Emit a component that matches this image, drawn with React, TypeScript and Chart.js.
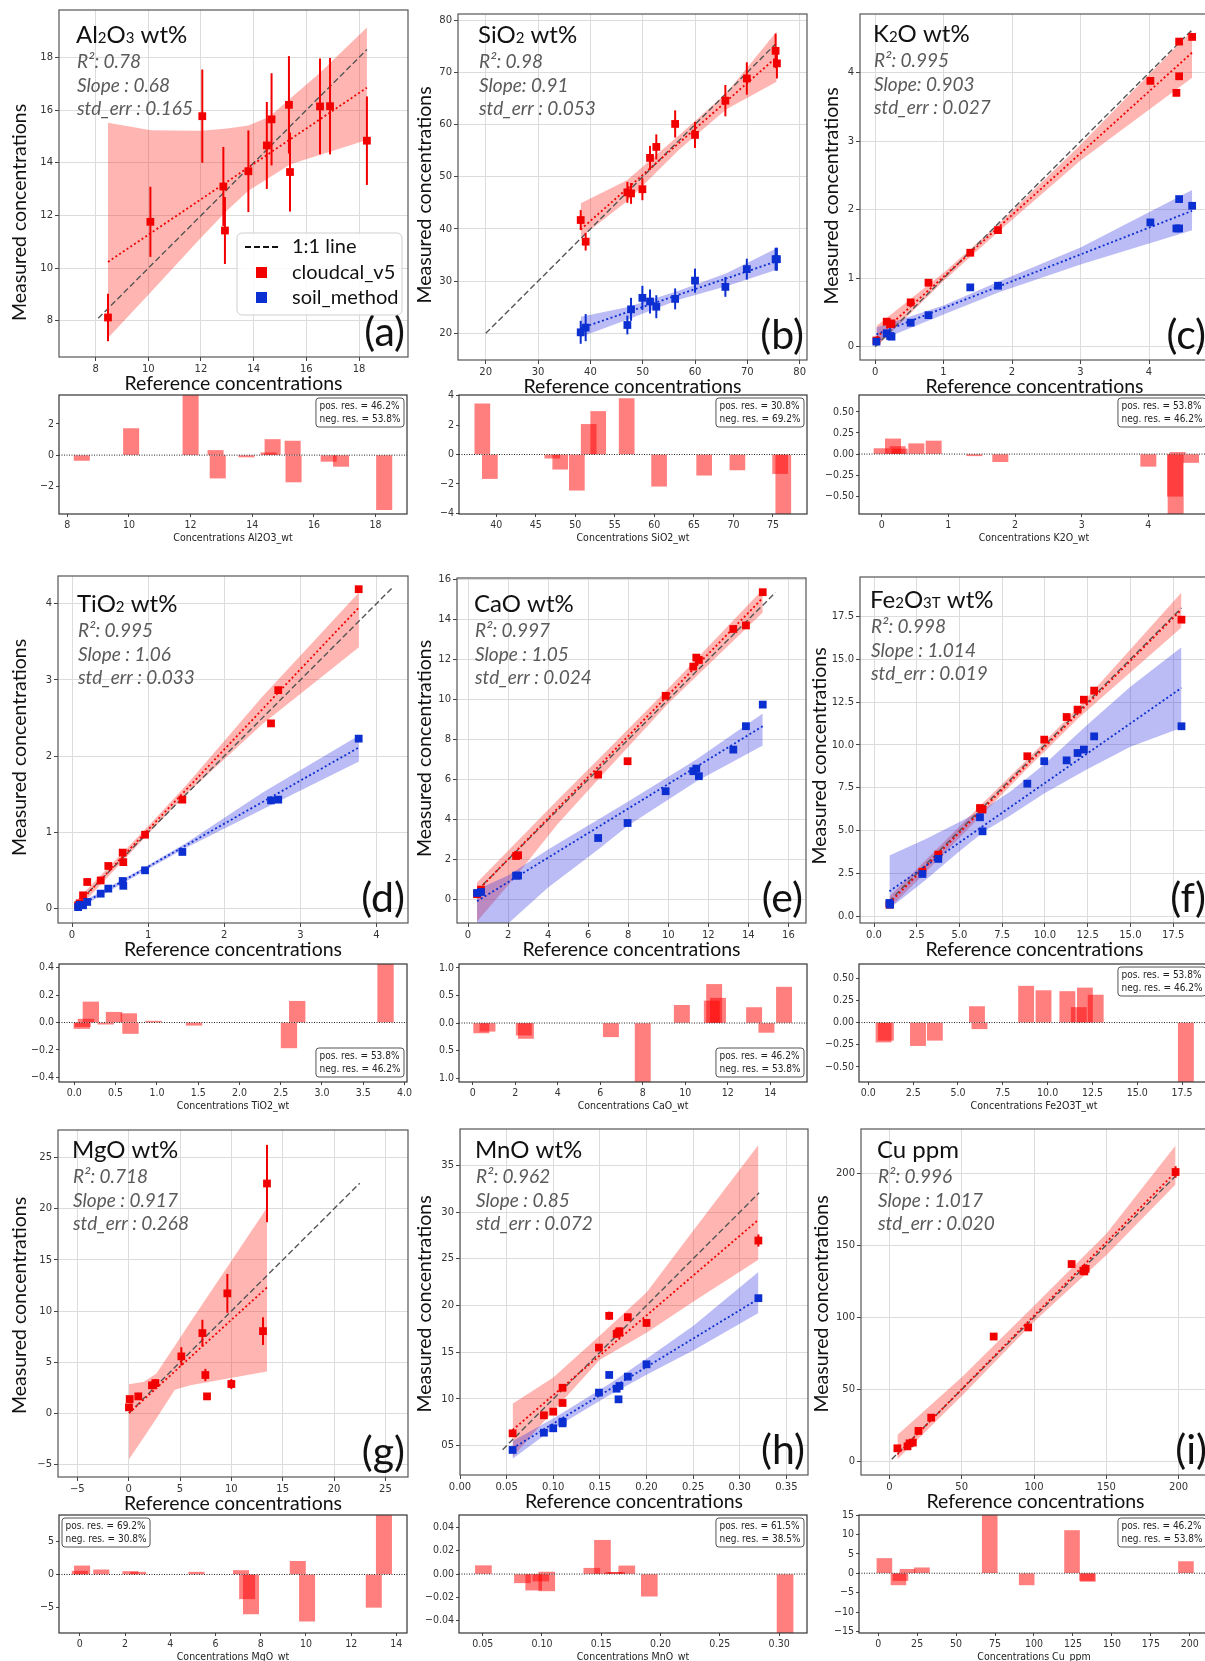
import React, { useEffect, useRef } from 'react';
import { Chart, registerables } from 'chart.js';

Chart.register(...registerables);

// ---------------- (a) Al2O3 ----------------
const AL_TICKS = [8, 10, 12, 14, 16, 18];
const AL_REF = [8.47, 10.08, 12.05, 12.85, 12.91, 13.8, 14.5, 14.68, 15.34, 15.38, 16.52, 16.9, 18.3];
const AL_CLOUD = [8.13, 11.76, 15.77, 13.1, 11.43, 13.68, 14.66, 15.65, 16.2, 13.65, 16.14, 16.15, 14.84];
const AL_CLOUD_ERR = [0.9, 1.33, 1.77, 1.5, 1.27, 1.55, 1.65, 1.75, 1.85, 1.5, 1.82, 1.83, 1.68];
const AL_FIT_X = [8.47, 18.3];
const AL_FIT_Y = [10.24, 16.85];
const AL_BAND_X = [8.47, 10.1, 12.0, 13.0, 13.8, 14.6, 15.4, 16.5, 18.3];
const AL_BAND_LO = [7.35, 9.1, 11.16, 12.2, 12.94, 13.44, 13.95, 14.3, 14.87];
const AL_BAND_HI = [15.52, 15.24, 15.22, 15.3, 15.42, 15.75, 16.45, 17.4, 19.14];
const AL_ONE = [8.1, 18.3];
const AL_RES_X = [8.47, 10.07, 12.0, 12.81, 12.88, 13.81, 14.53, 14.66, 15.31, 15.34, 16.48, 16.88, 18.28];
const AL_RES_Y = [-0.34, 1.7, 4.0, 0.3, -1.47, -0.12, 0.15, 1.0, 0.9, -1.72, -0.4, -0.72, -3.49];
const AL_RES_YTICKS = [-2, 0, 2];

// ---------------- (b) SiO2 ----------------
const SI_TICKS = [20, 30, 40, 50, 60, 70, 80];
const SI_REF = [38.15, 39.1, 47.07, 47.77, 49.94, 51.4, 52.6, 56.2, 60.0, 65.8, 69.9, 75.4, 75.65];
const SI_CLOUD = [41.7, 37.56, 47.0, 46.8, 47.6, 53.6, 55.7, 60.1, 58.0, 64.56, 68.8, 74.1, 71.7];
const SI_CLOUD_ERR = [1.9, 1.7, 2.0, 2.0, 2.1, 2.3, 2.4, 2.6, 2.5, 3.0, 3.1, 3.3, 2.9];
const SI_SOIL = [20.2, 21.1, 21.6, 24.6, 26.8, 26.1, 25.1, 26.6, 30.1, 28.9, 32.3, 34.2, 34.2];
const SI_SOIL_ERR = [2.2, 2.6, 1.8, 2.2, 2.3, 2.3, 2.2, 2.0, 2.3, 1.9, 2.0, 2.2, 2.2];
const SI_FIT_X = [38.15, 75.6];
const SI_CLOUD_FIT = [39.9, 72.9];
const SI_SOIL_FIT = [21.0, 33.8];
const SI_BAND_X = [38.15, 47, 57, 66, 75.6];
const SI_CLOUD_LO = [38.4, 45.3, 55.2, 62.9, 68.2];
const SI_CLOUD_HI = [44.9, 49.3, 58.0, 66.0, 77.8];
const SI_SOIL_LO = [19.3, 22.6, 26.5, 29.0, 32.2];
const SI_SOIL_HI = [23.2, 25.0, 28.2, 31.5, 36.3];
const SI_ONE = [20, 75.5];
const SI_RES_XTICKS = [40, 45, 50, 55, 60, 65, 70, 75];
const SI_RES_YTICKS = [-4, -2, 0, 2, 4];
const SI_RES_X = [38.25, 39.2, 47.1, 48.1, 50.2, 51.7, 52.9, 56.5, 60.6, 66.3, 70.5, 75.9, 76.3];
const SI_RES_Y = [3.45, -1.64, -0.25, -1.0, -2.43, 2.05, 2.93, 3.8, -2.16, -1.41, -1.05, -1.3, -4.3];

// ---------------- (c) K2O ----------------
const K_TICKS = [0, 1, 2, 3, 4];
const K_REF = [0.02, 0.17, 0.22, 0.24, 0.52, 0.78, 1.39, 1.795, 4.02, 4.4, 4.44, 4.44, 4.63];
const K_CLOUD = [0.09, 0.365, 0.33, 0.34, 0.647, 0.934, 1.372, 1.703, 3.883, 3.708, 3.95, 4.457, 4.525];
const K_SOIL = [0.073, 0.195, 0.156, 0.146, 0.35, 0.46, 0.866, 0.89, 1.815, 1.727, 1.727, 2.156, 2.058];
const K_FIT_X = [0.02, 4.63];
const K_CLOUD_FIT = [0.136, 4.297];
const K_SOIL_FIT = [0.18, 1.985];
const K_BAND_X = [0.02, 1.0, 1.8, 3.0, 4.63];
const K_CLOUD_LO = [0.0, 0.96, 1.68, 2.72, 3.93];
const K_CLOUD_HI = [0.3, 1.08, 1.79, 2.95, 4.62];
const K_SOIL_LO = [0.07, 0.47, 0.79, 1.2, 1.7];
const K_SOIL_HI = [0.28, 0.6, 0.95, 1.45, 2.29];
const K_ONE = [0, 4.62];
const K_RES_YTICKS = [-0.5, -0.25, 0, 0.25, 0.5];
const K_RES_X = [0.0, 0.17, 0.24, 0.27, 0.52, 0.78, 1.39, 1.78, 4.0, 4.4, 4.41, 4.44, 4.64];
const K_RES_Y = [0.065, 0.18, 0.09, 0.06, 0.123, 0.155, -0.02, -0.09, -0.145, -0.5, -0.72, 0.02, -0.1];

// ---------------- (d) TiO2 ----------------
const TI_TICKS = [0, 1, 2, 3, 4];
const TI_REF = [0.08, 0.1, 0.145, 0.2, 0.377, 0.477, 0.666, 0.674, 0.96, 1.45, 2.615, 2.71, 3.767];
const TI_CLOUD = [0.044, 0.07, 0.175, 0.35, 0.37, 0.56, 0.735, 0.61, 0.97, 1.43, 2.43, 2.866, 4.19];
const TI_SOIL = [0.02, 0.05, 0.044, 0.088, 0.197, 0.263, 0.363, 0.3, 0.503, 0.744, 1.42, 1.43, 2.23];
const TI_FIT_X = [0.08, 3.77];
const TI_CLOUD_FIT = [0.066, 3.95];
const TI_SOIL_FIT = [0.03, 2.114];
const TI_BAND_X = [0.08, 1.0, 1.5, 2.5, 3.77];
const TI_CLOUD_LO = [0.0, 0.98, 1.5, 2.42, 3.43];
const TI_CLOUD_HI = [0.13, 1.08, 1.62, 2.78, 4.145];
const TI_SOIL_LO = [0.0, 0.52, 0.8, 1.3, 1.93];
const TI_SOIL_HI = [0.06, 0.57, 0.86, 1.52, 2.27];
const TI_ONE = [0.05, 4.2];
const TI_RES_XTICKS = [0, 0.5, 1, 1.5, 2, 2.5, 3, 3.5, 4];
const TI_RES_YTICKS = [-0.4, -0.2, 0, 0.2, 0.4];
const TI_RES_X = [0.09, 0.1, 0.14, 0.2, 0.38, 0.48, 0.66, 0.68, 0.96, 1.45, 2.6, 2.7, 3.77];
const TI_RES_Y = [-0.044, -0.03, 0.025, 0.15, -0.012, 0.075, 0.065, -0.08, 0.01, -0.02, -0.185, 0.155, 0.45];

// ---------------- (e) CaO ----------------
const CA_TICKS = [0, 2, 4, 6, 8, 10, 12, 14, 16];
const CA_REF = [0.45, 0.65, 2.4, 2.5, 6.5, 7.97, 9.87, 11.25, 11.4, 11.53, 13.25, 13.88, 14.72];
const CA_CLOUD = [0.27, 0.5, 2.18, 2.22, 6.25, 6.92, 10.19, 11.65, 12.1, 11.98, 13.53, 13.71, 15.37];
const CA_SOIL = [0.33, 0.38, 1.2, 1.2, 3.08, 3.83, 5.42, 6.42, 6.55, 6.17, 7.5, 8.67, 9.75];
const CA_FIT_X = [0.45, 14.72];
const CA_CLOUD_FIT = [0.42, 15.08];
const CA_SOIL_FIT = [-0.08, 8.67];
const CA_CLOUD_BAND_X = [0.45, 2.5, 4.5, 6.5, 10, 14.72];
const CA_CLOUD_LO = [-1.1, 1.3, 3.8, 6.0, 9.8, 14.35];
const CA_CLOUD_HI = [0.85, 2.95, 5.0, 7.0, 10.55, 15.5];
const CA_SOIL_BAND_X = [0.45, 2.0, 4.0, 6.5, 8.0, 11.4, 14.72];
const CA_SOIL_LO = [-1.2, -1.2, 0.6, 2.5, 3.7, 5.9, 7.7];
const CA_SOIL_HI = [0.5, 1.2, 2.5, 4.0, 4.9, 7.0, 9.3];
const CA_ONE = [0.4, 15.35];
const CA_RES_XTICKS = [0, 2, 4, 6, 8, 10, 12, 14];
const CA_RES_YTICKS = [-1, -0.5, 0, 0.5, 1];
const CA_RES_X = [0.4, 0.69, 2.4, 2.5, 6.5, 8.0, 9.84, 11.25, 11.36, 11.54, 13.24, 13.82, 14.65];
const CA_RES_Y = [-0.18, -0.15, -0.22, -0.28, -0.25, -1.1, 0.32, 0.4, 0.7, 0.45, 0.28, -0.17, 0.65];

// ---------------- (f) Fe2O3T ----------------
const FE_TICKS = [0, 2.5, 5, 7.5, 10, 12.5, 15, 17.5];
const FE_REF = [0.9, 0.94, 2.83, 3.76, 6.2, 6.35, 8.97, 9.96, 11.27, 11.91, 12.28, 12.88, 17.99];
const FE_CLOUD = [0.68, 0.72, 2.59, 3.6, 6.32, 6.23, 9.34, 10.31, 11.63, 12.06, 12.64, 13.17, 17.31];
const FE_SOIL = [0.78, 0.68, 2.47, 3.35, 5.78, 4.96, 7.74, 9.05, 9.1, 9.53, 9.73, 10.5, 11.09];
const FE_FIT_X = [0.9, 17.99];
const FE_CLOUD_FIT = [0.78, 17.9];
const FE_SOIL_FIT = [1.46, 13.33];
const FE_CLOUD_BAND_X = [0.9, 3, 6, 9, 12, 17.99];
const FE_CLOUD_LO = [0.45, 2.55, 5.6, 8.65, 11.6, 16.85];
const FE_CLOUD_HI = [1.15, 3.25, 6.25, 9.2, 12.25, 18.9];
const FE_SOIL_BAND_X = [0.9, 3, 5, 6.5, 8, 10, 12.5, 15, 17.99];
const FE_SOIL_LO = [0.45, 2.1, 3.8, 5.0, 5.9, 7.2, 8.6, 9.9, 11.0];
const FE_SOIL_HI = [3.55, 4.5, 5.5, 6.3, 7.3, 8.9, 11.2, 13.4, 15.7];
const FE_ONE = [0.85, 17.99];
const FE_RES_YTICKS = [-0.5, -0.25, 0, 0.25, 0.5];
const FE_RES_X = [0.85, 0.98, 2.77, 3.71, 6.06, 6.2, 8.8, 9.77, 11.1, 11.74, 12.08, 12.68, 17.71];
const FE_RES_Y = [-0.22, -0.2, -0.26, -0.2, 0.18, -0.07, 0.41, 0.36, 0.35, 0.17, 0.39, 0.31, -0.7];

// ---------------- (g) MgO ----------------
const MG_TICKS = [-5, 0, 5, 10, 15, 20, 25];
const MG_REF = [0.03, 0.1, 0.94, 2.27, 2.6, 5.13, 7.18, 7.47, 7.63, 9.61, 10.0, 13.08, 13.47];
const MG_CLOUD = [0.59, 1.4, 1.66, 2.74, 2.96, 5.57, 7.85, 3.75, 1.66, 11.73, 2.87, 8.04, 22.47];
const MG_CLOUD_ERR = [0.3, 0.3, 0.35, 0.4, 0.4, 0.9, 1.3, 0.6, 0.3, 1.9, 0.5, 1.35, 3.78];
const MG_FIT_X = [0.03, 13.47];
const MG_FIT_Y = [0.03, 12.31];
const MG_BAND_X = [0.03, 1.5, 2.7, 4.5, 6.0, 13.47];
const MG_BAND_LO = [-4.5, -2.3, -0.5, 2.3, 2.75, 4.1];
const MG_BAND_HI = [2.85, 3.1, 3.9, 6.6, 8.9, 20.1];
const MG_ONE = [0.03, 22.5];
const MG_RES_XTICKS = [0, 2, 4, 6, 8, 10, 12, 14];
const MG_RES_YTICKS = [-5, 0, 5];
const MG_RES_X = [0.0, 0.1, 0.95, 2.24, 2.58, 5.16, 7.13, 7.4, 7.57, 9.64, 10.05, 13.0, 13.45];
const MG_RES_Y = [0.5, 1.3, 0.7, 0.45, 0.35, 0.35, 0.6, -3.7, -6.0, 2.0, -7.1, -5.0, 9.5];

// ---------------- (h) MnO ----------------
const MN_XTICKS = [0, 0.05, 0.1, 0.15, 0.2, 0.25, 0.3, 0.35];
const MN_YTICKS = [5, 10, 15, 20, 25, 30, 35];
const MN_REF = [0.0564, 0.09, 0.1, 0.11, 0.11, 0.149, 0.16, 0.168, 0.17, 0.171, 0.18, 0.2, 0.32];
const MN_CLOUD = [6.32, 8.25, 8.64, 11.2, 9.57, 15.5, 18.9, 16.96, 17.1, 17.25, 18.75, 18.14, 26.96];
const MN_CLOUD_ERR = [0.3, 0.3, 0.3, 0.35, 0.3, 0.35, 0.45, 0.4, 0.4, 0.4, 0.4, 0.4, 0.65];
const MN_SOIL = [4.54, 6.39, 6.86, 7.57, 7.39, 10.68, 12.57, 11.1, 9.96, 11.39, 12.39, 13.71, 20.79];
const MN_FIT_X = [0.0564, 0.32];
const MN_CLOUD_FIT = [6.68, 29.18];
const MN_SOIL_FIT = [4.71, 20.71];
const MN_CLOUD_BAND_X = [0.0564, 0.1, 0.15, 0.2, 0.25, 0.32];
const MN_CLOUD_LO = [3.8, 8.7, 14.2, 17.1, 20.4, 24.9];
const MN_CLOUD_HI = [9.5, 12.3, 16.8, 21.4, 28.0, 37.2];
const MN_SOIL_BAND_X = [0.0564, 0.1, 0.16, 0.2, 0.25, 0.32];
const MN_SOIL_LO = [3.6, 6.8, 10.4, 12.6, 15.2, 19.2];
const MN_SOIL_HI = [5.5, 7.9, 11.6, 14.3, 17.8, 23.6];
const MN_ONE_X = [0.0457, 0.3207];
const MN_ONE_Y = [4.57, 32.07];
const MN_RES_XTICKS = [0.05, 0.1, 0.15, 0.2, 0.25, 0.3];
const MN_RES_YTICKS = [-0.04, -0.02, 0, 0.02, 0.04];
const MN_RES_X = [0.0506, 0.0835, 0.093, 0.099, 0.104, 0.104, 0.142, 0.151, 0.16, 0.163, 0.1715, 0.1905, 0.305];
const MN_RES_Y = [0.0072, -0.0075, -0.0138, -0.006, 0.0017, -0.0144, 0.005, 0.029, 0.0015, 0.0015, 0.007, -0.019, -0.055];

// ---------------- (i) Cu ----------------
const CU_TICKS = [0, 50, 100, 150, 200];
const CU_REF = [5.5, 12.5, 13.9, 16.2, 20.1, 28.9, 72.1, 96.0, 126.0, 134.1, 134.8, 135.7, 197.9];
const CU_CLOUD = [9.25, 10.6, 12.7, 13.2, 21.3, 30.5, 86.7, 93.0, 136.9, 132.3, 131.8, 133.6, 200.7];
const CU_CLOUD_ERR = [1, 1, 1, 1, 1, 1, 1.5, 1.5, 2.5, 2.5, 2.5, 2.5, 4];
const CU_FIT_X = [5.5, 197.9];
const CU_FIT_Y = [5.0, 200.7];
const CU_BAND_X = [5.5, 50, 100, 150, 197.9];
const CU_BAND_LO = [1.6, 45.5, 97, 143, 192];
const CU_BAND_HI = [18.5, 58.5, 108, 158, 219];
const CU_ONE = [1.6, 198];
const CU_RES_XTICKS = [0, 25, 50, 75, 100, 125, 150, 175, 200];
const CU_RES_YTICKS = [-15, -10, -5, 0, 5, 10, 15];
const CU_RES_X = [4.0, 13.0, 14.3, 18.8, 28.1, 71.6, 95.3, 124.4, 134.0, 134.6, 197.5];
const CU_RES_Y = [3.8, -3.0, -1.9, 1.0, 1.4, 16, -3.0, 11.0, -1.9, -2.1, 3.0];

// ---------------- styles ----------------
const SANS = "Lato, 'Open Sans', 'Noto Sans', sans-serif";
const TICK_FONT = "'DejaVu Sans', sans-serif";
const COND_FONT = "'DejaVu Sans Condensed', 'Liberation Sans Narrow', 'DejaVu Sans', sans-serif";
const RED = '#f20000';
const BLUE = '#0b2fd0';
const RED_BAND = 'rgba(255,40,30,0.34)';
const BLUE_BAND = 'rgba(50,50,225,0.33)';
const RES_BAR = 'rgba(255,0,0,0.5)';

const ML = 62, MT = 10, MR = 10, MB = 42;
const RL = 40, RT = 6, RR = 10, RB = 34;

const band = (x, lo, hi) => ({ x, lo, hi });

const MAIN = [
  { rect: [59, 10, 408, 357], xr: [6.61, 19.86], yr: [6.63, 19.8], xt: AL_TICKS, yt: AL_TICKS, xd: 0, yd: 0,
    ref: AL_REF, cloud: AL_CLOUD, cloudErr: AL_CLOUD_ERR, fitX: AL_FIT_X, cloudFit: AL_FIT_Y,
    cloudBand: band(AL_BAND_X, AL_BAND_LO, AL_BAND_HI), oneX: AL_ONE, oneY: AL_ONE,
    title: [['Al', 0], ['2', 1], ['O', 0], ['3', 1], [' wt%', 0]], stats: ['R²: 0.78', 'Slope : 0.68', 'std_err : 0.165'],
    letter: '(a)', tOff: [17, 33], yto: [39, 29], legend: true },
  { rect: [458, 14, 807, 360], xr: [14.7, 81.4], yr: [14.9, 81.15], xt: SI_TICKS, yt: SI_TICKS, xd: 0, yd: 0,
    ref: SI_REF, cloud: SI_CLOUD, cloudErr: SI_CLOUD_ERR, soil: SI_SOIL, soilErr: SI_SOIL_ERR, fitX: SI_FIT_X,
    cloudFit: SI_CLOUD_FIT, soilFit: SI_SOIL_FIT, cloudBand: band(SI_BAND_X, SI_CLOUD_LO, SI_CLOUD_HI),
    soilBand: band(SI_BAND_X, SI_SOIL_LO, SI_SOIL_HI), oneX: SI_ONE, oneY: SI_ONE,
    title: [['SiO', 0], ['2', 1], [' wt%', 0]], stats: ['R²: 0.98', 'Slope: 0.91', 'std_err : 0.053'],
    letter: '(b)', tOff: [20, 29], yto: [33, 8] },
  { rect: [860, 14, 1209, 360], xr: [-0.22, 4.876], yr: [-0.195, 4.86], xt: K_TICKS, yt: K_TICKS, xd: 0, yd: 0,
    ref: K_REF, cloud: K_CLOUD, soil: K_SOIL, fitX: K_FIT_X, cloudFit: K_CLOUD_FIT, soilFit: K_SOIL_FIT,
    cloudBand: band(K_BAND_X, K_CLOUD_LO, K_CLOUD_HI), soilBand: band(K_BAND_X, K_SOIL_LO, K_SOIL_HI),
    oneX: K_ONE, oneY: K_ONE,
    title: [['K', 0], ['2', 1], ['O wt%', 0]], stats: ['R²: 0.995', 'Slope: 0.903', 'std_err : 0.027'],
    letter: '(c)', tOff: [13, 28], yto: [28, 9] },
  { rect: [58, 576, 408, 923], xr: [-0.184, 4.415], yr: [-0.188, 4.363], xt: TI_TICKS, yt: TI_TICKS, xd: 0, yd: 0,
    ref: TI_REF, cloud: TI_CLOUD, soil: TI_SOIL, fitX: TI_FIT_X, cloudFit: TI_CLOUD_FIT, soilFit: TI_SOIL_FIT,
    cloudBand: band(TI_BAND_X, TI_CLOUD_LO, TI_CLOUD_HI), soilBand: band(TI_BAND_X, TI_SOIL_LO, TI_SOIL_HI),
    oneX: TI_ONE, oneY: TI_ONE,
    title: [['TiO', 0], ['2', 1], [' wt%', 0]], stats: ['R²: 0.995', 'Slope : 1.06', 'std_err : 0.033'],
    letter: '(d)', tOff: [19, 36], yto: [38, -2] },
  { rect: [457, 578, 806, 923], xr: [-0.55, 16.88], yr: [-1.17, 16.08], xt: CA_TICKS, yt: CA_TICKS, xd: 0, yd: 0,
    ref: CA_REF, cloud: CA_CLOUD, soil: CA_SOIL, fitX: CA_FIT_X, cloudFit: CA_CLOUD_FIT, soilFit: CA_SOIL_FIT,
    cloudBand: band(CA_CLOUD_BAND_X, CA_CLOUD_LO, CA_CLOUD_HI), soilBand: band(CA_SOIL_BAND_X, CA_SOIL_LO, CA_SOIL_HI),
    oneX: CA_ONE, oneY: CA_ONE,
    title: [['CaO wt%', 0]], stats: ['R²: 0.997', 'Slope : 1.05', 'std_err : 0.024'],
    letter: '(e)', tOff: [17, 34], yto: [32, -2] },
  { rect: [860, 577, 1209, 923], xr: [-0.82, 19.6], yr: [-0.39, 19.8], xt: FE_TICKS, yt: FE_TICKS, xd: 1, yd: 1,
    ref: FE_REF, cloud: FE_CLOUD, soil: FE_SOIL, fitX: FE_FIT_X, cloudFit: FE_CLOUD_FIT, soilFit: FE_SOIL_FIT,
    cloudBand: band(FE_CLOUD_BAND_X, FE_CLOUD_LO, FE_CLOUD_HI), soilBand: band(FE_SOIL_BAND_X, FE_SOIL_LO, FE_SOIL_HI),
    oneX: FE_ONE, oneY: FE_ONE,
    title: [['Fe', 0], ['2', 1], ['O', 0], ['3T', 1], [' wt%', 0]], stats: ['R²: 0.998', 'Slope : 1.014', 'std_err : 0.019'],
    letter: '(f)', tOff: [10, 31], yto: [40, 6] },
  { rect: [58, 1130, 408, 1477], xr: [-6.88, 27.2], yr: [-6.22, 27.7], xt: MG_TICKS, yt: MG_TICKS, xd: 0, yd: 0,
    ref: MG_REF, cloud: MG_CLOUD, cloudErr: MG_CLOUD_ERR, fitX: MG_FIT_X, cloudFit: MG_FIT_Y,
    cloudBand: band(MG_BAND_X, MG_BAND_LO, MG_BAND_HI), oneX: MG_ONE, oneY: MG_ONE,
    title: [['MgO wt%', 0]], stats: ['R²: 0.718', 'Slope : 0.917', 'std_err : 0.268'],
    letter: '(g)', tOff: [14, 28], yto: [38, 2] },
  { rect: [460, 1129, 808, 1475], xr: [0, 0.3732], yr: [1.86, 38.9], xt: MN_XTICKS, yt: MN_YTICKS, xd: 2, yd: 0, yPad: true,
    ref: MN_REF, cloud: MN_CLOUD, cloudErr: MN_CLOUD_ERR, soil: MN_SOIL, fitX: MN_FIT_X, cloudFit: MN_CLOUD_FIT, soilFit: MN_SOIL_FIT,
    cloudBand: band(MN_CLOUD_BAND_X, MN_CLOUD_LO, MN_CLOUD_HI), soilBand: band(MN_SOIL_BAND_X, MN_SOIL_LO, MN_SOIL_HI),
    oneX: MN_ONE_X, oneY: MN_ONE_Y,
    title: [['MnO wt%', 0]], stats: ['R²: 0.962', 'Slope : 0.85', 'std_err : 0.072'],
    letter: '(h)', tOff: [15, 29], yto: [35, 2] },
  { rect: [861, 1129, 1210, 1475], xr: [-19.65, 221.7], yr: [-9.25, 230.5], xt: CU_TICKS, yt: CU_TICKS, xd: 0, yd: 0,
    ref: CU_REF, cloud: CU_CLOUD, cloudErr: CU_CLOUD_ERR, fitX: CU_FIT_X, cloudFit: CU_FIT_Y,
    cloudBand: band(CU_BAND_X, CU_BAND_LO, CU_BAND_HI), oneX: CU_ONE, oneY: CU_ONE,
    title: [['Cu ppm', 0]], stats: ['R²: 0.996', 'Slope : 1.017', 'std_err : 0.020'],
    letter: '(i)', tOff: [16, 29], yto: [39, 2] },
];

const RES = [
  { rect: [59, 395, 407, 514], xr: [7.73, 19.02], yr: [-3.77, 3.85], xt: AL_TICKS, yt: AL_RES_YTICKS, xd: 0, yd: 0,
    x: AL_RES_X, y: AL_RES_Y, bw: 0.5, pos: '46.2', neg: '53.8', box: 'tr', label: 'Concentrations Al2O3_wt' },
  { rect: [459, 395, 807, 514], xr: [35.3, 79.3], yr: [-4.05, 4.05], xt: SI_RES_XTICKS, yt: SI_RES_YTICKS, xd: 0, yd: 0,
    x: SI_RES_X, y: SI_RES_Y, bw: 1.9, pos: '30.8', neg: '69.2', box: 'tr', label: 'Concentrations SiO2_wt' },
  { rect: [859, 395, 1209, 514], xr: [-0.34, 4.91], yr: [-0.71, 0.7], xt: K_TICKS, yt: K_RES_YTICKS, xd: 0, yd: 2,
    x: K_RES_X, y: K_RES_Y, bw: 0.23, pos: '53.8', neg: '46.2', box: 'tr', label: 'Concentrations K2O_wt' },
  { rect: [59, 964, 407, 1082], xr: [-0.186, 4.03], yr: [-0.434, 0.427], xt: TI_RES_XTICKS, yt: TI_RES_YTICKS, xd: 1, yd: 1,
    x: TI_RES_X, y: TI_RES_Y, bw: 0.19, pos: '53.8', neg: '46.2', box: 'br', label: 'Concentrations TiO2_wt' },
  { rect: [459, 964, 807, 1082], xr: [-0.65, 15.73], yr: [-1.07, 1.07], xt: CA_RES_XTICKS, yt: CA_RES_YTICKS, xd: 0, yd: 1, yAbs: true,
    x: CA_RES_X, y: CA_RES_Y, bw: 0.72, pos: '46.2', neg: '53.8', box: 'br', label: 'Concentrations CaO_wt' },
  { rect: [859, 964, 1209, 1082], xr: [-0.52, 19.0], yr: [-0.67, 0.66], xt: FE_TICKS, yt: FE_RES_YTICKS, xd: 1, yd: 2,
    x: FE_RES_X, y: FE_RES_Y, bw: 0.85, pos: '53.8', neg: '46.2', box: 'tr', label: 'Concentrations Fe2O3T_wt' },
  { rect: [59, 1515, 407, 1633], xr: [-0.92, 14.47], yr: [-8.9, 9.04], xt: MG_RES_XTICKS, yt: MG_RES_YTICKS, xd: 0, yd: 0,
    x: MG_RES_X, y: MG_RES_Y, bw: 0.68, pos: '69.2', neg: '30.8', box: 'tl', label: 'Concentrations MgO_wt' },
  { rect: [459, 1515, 807, 1633], xr: [0.03, 0.3235], yr: [-0.0506, 0.0507], xt: MN_RES_XTICKS, yt: MN_RES_YTICKS, xd: 2, yd: 2,
    x: MN_RES_X, y: MN_RES_Y, bw: 0.0135, pos: '61.5', neg: '38.5', box: 'tr', label: 'Concentrations MnO_wt' },
  { rect: [859, 1515, 1209, 1633], xr: [-12.3, 212.3], yr: [-15.4, 15.0], xt: CU_RES_XTICKS, yt: CU_RES_YTICKS, xd: 0, yd: 0,
    x: CU_RES_X, y: CU_RES_Y, bw: 9.6, pos: '46.2', neg: '53.8', box: 'tr', label: 'Concentrations Cu_ppm' },
];

function fmt(v, dec, pad, abs) {
  const val = abs ? Math.abs(v) : v;
  let s = Math.abs(val).toFixed(dec);
  if (pad && s.length < 2) s = '0' + s;
  return (val < -1e-12 ? '\u2212' : '') + s;
}

function axis(range, ticks, dec, isX, o) {
  return {
    type: 'linear', min: range[0], max: range[1], offset: false,
    afterBuildTicks: (s) => { s.ticks = ticks.map((v) => ({ value: v })); },
    afterFit: (s) => {
      if (isX) s.height = o.h; else s.width = o.w;
      s.paddingLeft = 0; s.paddingRight = 0; s.paddingTop = 0; s.paddingBottom = 0;
    },
    grid: { display: true, offset: false, drawOnChartArea: o.grid, color: '#dcdcdc', lineWidth: 1, drawTicks: true, tickLength: o.tl, tickColor: '#444' },
    border: { display: false },
    ticks: { autoSkip: false, maxRotation: 0, minRotation: 0, padding: o.pad, color: '#333',
      font: { family: o.font, size: o.size }, callback: (v) => fmt(v, dec, isX ? false : o.yPad, isX ? false : o.yAbs) },
  };
}

function pts(xs, ys) { return xs.map((x, i) => ({ x, y: ys[i] })); }

function drawSegs(ctx, segs, x, y) {
  let cx = x;
  segs.forEach(([t, small]) => {
    ctx.font = small ? `15px ${SANS}` : `24px ${SANS}`;
    ctx.fillText(t, cx, y);
    cx += ctx.measureText(t).width;
  });
}

function buildMain(p) {
  const ds = [];
  const addBand = (b, color) => {
    ds.push({ type: 'line', data: pts(b.x, b.hi), borderWidth: 0, borderColor: 'rgba(0,0,0,0)', pointRadius: 0, fill: '+1', backgroundColor: color, order: 30 });
    ds.push({ type: 'line', data: pts(b.x, b.lo), borderWidth: 0, borderColor: 'rgba(0,0,0,0)', pointRadius: 0, fill: false, order: 30 });
  };
  if (p.soilBand) addBand(p.soilBand, BLUE_BAND);
  addBand(p.cloudBand, RED_BAND);
  ds.push({ type: 'line', data: pts(p.oneX, p.oneY), borderColor: '#555', borderWidth: 1.4, borderDash: [6, 3], pointRadius: 0, fill: false, order: 20 });
  if (p.soilFit) ds.push({ type: 'line', data: pts(p.fitX, p.soilFit), borderColor: BLUE, borderWidth: 1.8, borderDash: [2, 2.5], pointRadius: 0, fill: false, order: 10 });
  ds.push({ type: 'line', data: pts(p.fitX, p.cloudFit), borderColor: RED, borderWidth: 1.8, borderDash: [2, 2.5], pointRadius: 0, fill: false, order: 10 });
  ds.push({ type: 'line', data: pts(p.ref, p.cloud), showLine: false, pointStyle: 'rect', pointRadius: 5.5, pointBackgroundColor: RED, backgroundColor: RED, borderColor: RED, pointBorderWidth: 0, order: 3, errs: p.cloudErr });
  if (p.soil) ds.push({ type: 'line', data: pts(p.ref, p.soil), showLine: false, pointStyle: 'rect', pointRadius: 5.5, pointBackgroundColor: BLUE, backgroundColor: BLUE, borderColor: BLUE, pointBorderWidth: 0, order: 2, errs: p.soilErr });

  const ao = { w: ML, h: MB, grid: true, tl: 4, pad: 2, font: TICK_FONT, size: 10, yPad: p.yPad };
  const deco = {
    id: 'mainDeco',
    beforeDatasetDraw(chart, args) {
      const d = chart.data.datasets[args.index];
      if (!d.errs) return;
      const { ctx, chartArea: a, scales } = chart;
      ctx.save();
      ctx.beginPath(); ctx.rect(a.left, a.top, a.width, a.height); ctx.clip();
      ctx.strokeStyle = d.pointBackgroundColor; ctx.lineWidth = 2;
      d.data.forEach((pt, i) => {
        const e = d.errs[i];
        const px = scales.x.getPixelForValue(pt.x);
        ctx.beginPath();
        ctx.moveTo(px, scales.y.getPixelForValue(pt.y - e));
        ctx.lineTo(px, scales.y.getPixelForValue(pt.y + e));
        ctx.stroke();
      });
      ctx.restore();
    },
    afterDraw(chart) {
      const { ctx, chartArea: a } = chart;
      ctx.save();
      ctx.strokeStyle = '#555'; ctx.lineWidth = 1.2;
      ctx.strokeRect(a.left, a.top, a.width, a.height);
      // title
      ctx.fillStyle = '#111'; ctx.textBaseline = 'alphabetic'; ctx.textAlign = 'left';
      drawSegs(ctx, p.title, a.left + p.tOff[0], a.top + p.tOff[1]);
      ctx.fillStyle = '#5a5a5a'; ctx.font = `italic 19px ${SANS}`;
      p.stats.forEach((s, i) => ctx.fillText(s, a.left + p.tOff[0] + 1, a.top + p.tOff[1] + 25 + i * 23.5));
      // letter
      ctx.fillStyle = '#111'; ctx.font = `41px ${SANS}`; ctx.textAlign = 'right';
      ctx.fillText(p.letter, a.right - 3, a.bottom - 11);
      // axis titles
      ctx.font = `19.5px ${SANS}`; ctx.textAlign = 'center'; ctx.textBaseline = 'middle';
      ctx.fillText('Reference concentrations', (a.left + a.right) / 2, a.bottom + 27);
      ctx.save();
      ctx.translate(a.left - p.yto[0], (a.top + a.bottom) / 2 + p.yto[1]);
      ctx.rotate(-Math.PI / 2);
      ctx.fillText('Measured concentrations', 0, 0);
      ctx.restore();
      if (p.legend) {
        const lx = a.left + 178, ly = a.top + 223;
        ctx.fillStyle = 'rgba(255,255,255,0.85)'; ctx.strokeStyle = '#cfcfcf'; ctx.lineWidth = 1;
        ctx.beginPath(); ctx.roundRect(lx, ly, 165, 82, 5); ctx.fill(); ctx.stroke();
        ctx.strokeStyle = '#111'; ctx.lineWidth = 2; ctx.setLineDash([6, 3]);
        ctx.beginPath(); ctx.moveTo(lx + 8, ly + 14); ctx.lineTo(lx + 41, ly + 14); ctx.stroke();
        ctx.setLineDash([]);
        ctx.fillStyle = RED; ctx.fillRect(lx + 19, ly + 34, 11, 11);
        ctx.fillStyle = BLUE; ctx.fillRect(lx + 19, ly + 59, 11, 11);
        ctx.fillStyle = '#111'; ctx.font = `20px ${SANS}`; ctx.textAlign = 'left'; ctx.textBaseline = 'middle';
        ctx.fillText('1:1 line', lx + 55, ly + 14);
        ctx.fillText('cloudcal_v5', lx + 55, ly + 40);
        ctx.fillText('soil_method', lx + 55, ly + 65);
      }
      ctx.restore();
    },
  };
  return {
    type: 'line',
    data: { datasets: ds },
    options: {
      animation: false, responsive: false, maintainAspectRatio: false, devicePixelRatio: 1,
      layout: { padding: { left: 0, top: MT, right: MR, bottom: 0 } },
      plugins: { legend: { display: false }, tooltip: { enabled: false } },
      scales: { x: axis(p.xr, p.xt, p.xd, true, ao), y: axis(p.yr, p.yt, p.yd, false, ao) },
    },
    plugins: [deco],
  };
}

function buildRes(r) {
  const w = r.rect[2] - r.rect[0];
  const barPx = (r.bw * w) / (r.xr[1] - r.xr[0]);
  const ao = { w: RL, h: RB, grid: false, tl: 3, pad: 2, font: COND_FONT, size: 10.5, yAbs: r.yAbs };
  const deco = {
    id: 'resDeco',
    afterDatasetsDraw(chart) {
      const { ctx, chartArea: a, scales } = chart;
      const y0 = scales.y.getPixelForValue(0);
      ctx.save();
      ctx.strokeStyle = '#222'; ctx.lineWidth = 1; ctx.setLineDash([1, 1.5]);
      ctx.beginPath(); ctx.moveTo(a.left, y0); ctx.lineTo(a.right, y0); ctx.stroke();
      ctx.restore();
    },
    afterDraw(chart) {
      const { ctx, chartArea: a } = chart;
      ctx.save();
      ctx.strokeStyle = '#333'; ctx.lineWidth = 1.2;
      ctx.strokeRect(a.left, a.top, a.width, a.height);
      const lines = [`pos. res. = ${r.pos}%`, `neg. res. = ${r.neg}%`];
      ctx.font = `10px ${COND_FONT}`;
      const tw = Math.max(...lines.map((l) => ctx.measureText(l).width));
      const bw = tw + 7, bh = 29;
      const bx = r.box[1] === 'l' ? a.left + 3 : a.right - 3 - bw;
      const by = r.box[0] === 't' ? a.top + 3 : a.bottom - 5 - bh;
      ctx.fillStyle = '#fff'; ctx.strokeStyle = '#555'; ctx.lineWidth = 1;
      ctx.beginPath(); ctx.roundRect(bx, by, bw, bh, 3); ctx.fill(); ctx.stroke();
      ctx.fillStyle = '#222'; ctx.textAlign = 'left'; ctx.textBaseline = 'middle';
      ctx.fillText(lines[0], bx + 3.5, by + 8.5);
      ctx.fillText(lines[1], bx + 3.5, by + 21);
      ctx.font = `10.5px ${COND_FONT}`;
      ctx.textAlign = 'center';
      ctx.fillText(r.label, (a.left + a.right) / 2, a.bottom + 24);
      ctx.restore();
    },
  };
  return {
    type: 'bar',
    data: { datasets: [{ data: pts(r.x, r.y), backgroundColor: RES_BAR, borderWidth: 0, barThickness: barPx }] },
    options: {
      animation: false, responsive: false, maintainAspectRatio: false, devicePixelRatio: 1,
      layout: { padding: { left: 0, top: RT, right: RR, bottom: 0 } },
      plugins: { legend: { display: false }, tooltip: { enabled: false } },
      scales: { x: axis(r.xr, r.xt, r.xd, true, ao), y: axis(r.yr, r.yt, r.yd, false, ao) },
    },
    plugins: [deco],
  };
}

function ChartCanvas({ left, top, width, height, build }) {
  const ref = useRef(null);
  useEffect(() => {
    const chart = new Chart(ref.current, build());
    return () => chart.destroy();
  }, []);
  return <canvas ref={ref} width={width} height={height} style={{ position: 'absolute', left, top, width, height }} />;
}

export default function App() {
  return (
    <div style={{ position: 'absolute', left: 0, top: 0, width: 1205, height: 1661, overflow: 'hidden', background: '#fff' }}>
      {RES.map((r, i) => {
        const [x0, y0, x1, y1] = r.rect;
        return <ChartCanvas key={'r' + i} left={x0 - RL} top={y0 - RT} width={x1 - x0 + RL + RR} height={y1 - y0 + RT + RB} build={() => buildRes(r)} />;
      })}
      {MAIN.map((p, i) => {
        const [x0, y0, x1, y1] = p.rect;
        return <ChartCanvas key={'m' + i} left={x0 - ML} top={y0 - MT} width={x1 - x0 + ML + MR} height={y1 - y0 + MT + MB} build={() => buildMain(p)} />;
      })}
    </div>
  );
}
